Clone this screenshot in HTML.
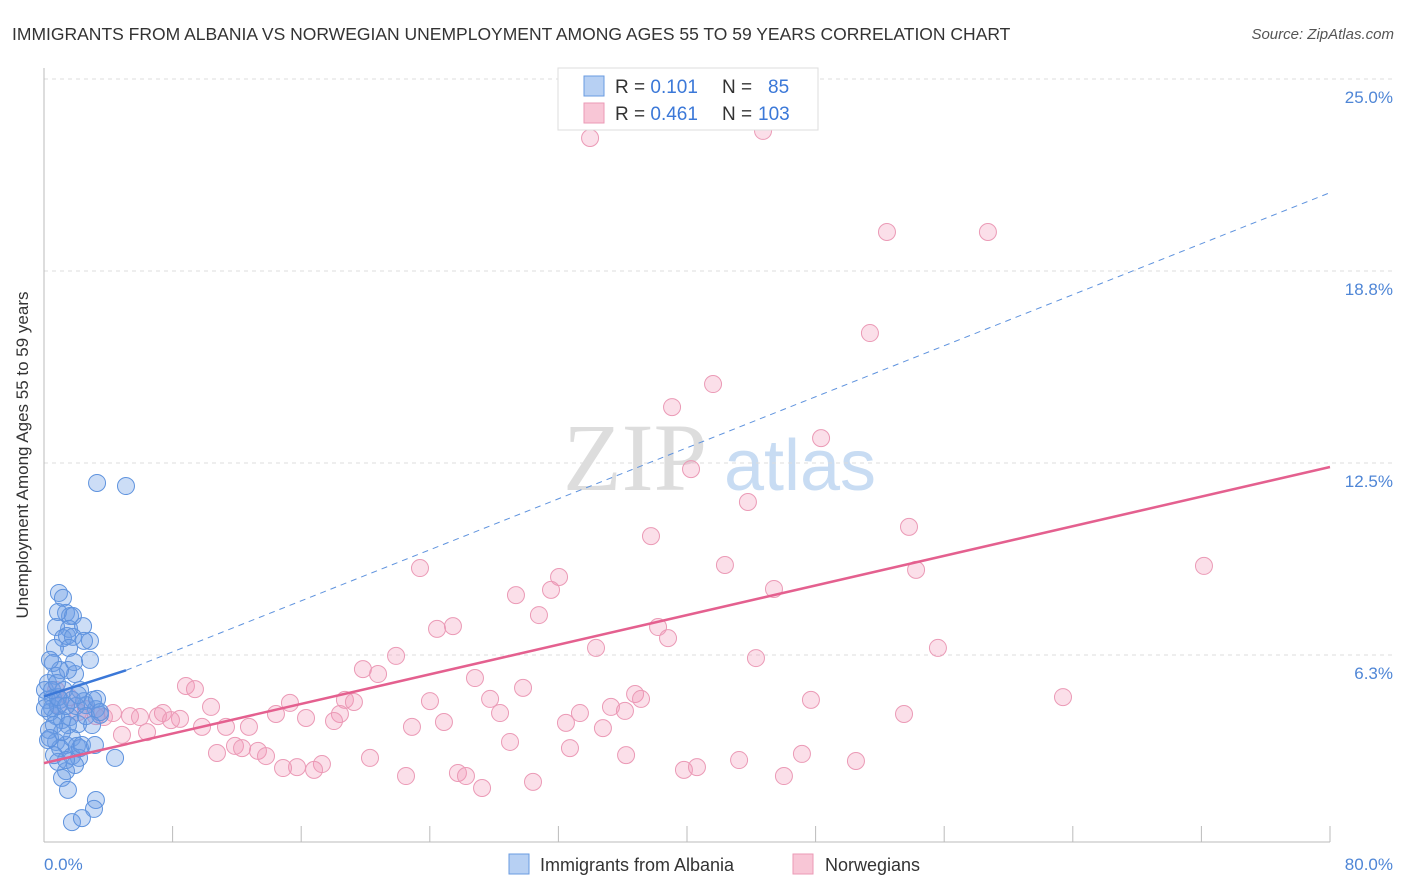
<!DOCTYPE html>
<html><head><meta charset="utf-8"><style>
body{margin:0;background:#fff;font-family:"Liberation Sans",sans-serif;}
svg{display:block}
</style></head><body>
<svg id="chart" width="1406" height="892">
<text x="12" y="40" font-size="17.5" fill="#333">IMMIGRANTS FROM ALBANIA VS NORWEGIAN UNEMPLOYMENT AMONG AGES 55 TO 59 YEARS CORRELATION CHART</text>
<text x="1394" y="39" font-size="15" fill="#555" font-style="italic" text-anchor="end">Source: ZipAtlas.com</text>
<g>
<text x="635" y="490" font-size="96" font-family="Liberation Serif,serif" fill="#ddd" text-anchor="middle">ZIP</text>
<text x="800" y="490" font-size="72" fill="#c8dcf3" text-anchor="middle">atlas</text>
</g>
<g id="grid"></g>
<line x1="44" y1="68" x2="44" y2="842" stroke="#bbb"/>
<line x1="44" y1="842" x2="1330" y2="842" stroke="#bbb"/>
<g id="xticks"></g>
<text x="28" y="455" font-size="17" fill="#333" text-anchor="middle" transform="rotate(-90 28 455)">Unemployment Among Ages 55 to 59 years</text>
<text x="44" y="870" font-size="17" fill="#4f86d6">0.0%</text>
<text x="1393" y="870" font-size="17" fill="#4f86d6" text-anchor="end">80.0%</text>
<g id="pink"></g><g id="blue"></g><g id="trends"></g>
<g>
<rect x="558" y="68" width="260" height="62" fill="#fff" stroke="#ddd"/>
<rect x="584" y="76" width="20" height="20" fill="#b7d0f3" stroke="#6a9be0"/>
<rect x="584" y="103" width="20" height="20" fill="#f8c6d6" stroke="#eb9ab6"/>
<text x="615" y="93" font-size="19" fill="#333">R = <tspan fill="#3b78d8">0.101</tspan><tspan x="722">N = </tspan><tspan x="768" fill="#3b78d8">85</tspan></text>
<text x="615" y="120" font-size="19" fill="#333">R = <tspan fill="#3b78d8">0.461</tspan><tspan x="722">N = </tspan><tspan x="758" fill="#3b78d8">103</tspan></text>
</g>
<g>
<rect x="509" y="854" width="20" height="20" fill="#b7d0f3" stroke="#6a9be0"/>
<text x="540" y="871" font-size="18" fill="#333">Immigrants from Albania</text>
<rect x="793" y="854" width="20" height="20" fill="#f8c6d6" stroke="#eb9ab6"/>
<text x="825" y="871" font-size="18" fill="#333">Norwegians</text>
</g>
</svg>
<script>
const yTicks=[25.0,18.8,12.5,6.3];
const yTickVals=[25,18.75,12.5,6.25];
const xTickVals=[0,8,16,24,32,40,48,56,64,72,80];
const blueData=[[3.30,11.85],[5.10,11.75],[0.93,8.27],[1.18,8.11],[1.37,7.62],[1.62,7.52],[1.80,7.52],[1.56,7.10],[2.43,7.19],[0.75,7.16],[1.18,6.80],[1.43,6.87],[2.86,6.71],[1.80,6.84],[1.56,6.48],[0.68,6.48],[0.56,5.99],[1.93,5.63],[1.49,5.76],[0.75,5.57],[1.00,5.76],[0.25,5.34],[0.06,5.11],[0.56,4.85],[1.00,4.79],[2.24,5.11],[2.49,4.75],[3.05,4.79],[3.23,4.49],[3.48,4.30],[2.61,4.62],[0.50,4.52],[0.75,4.26],[1.12,4.13],[1.62,4.23],[2.12,4.00],[0.31,3.81],[0.75,3.42],[1.37,3.32],[1.74,3.55],[2.05,3.29],[1.00,3.22],[1.74,2.96],[2.18,2.90],[2.24,3.22],[4.42,2.90],[1.37,2.47],[1.12,2.25],[1.49,1.86],[3.23,1.53],[3.11,1.24],[1.74,0.81],[2.36,0.94],[0.37,6.09],[0.19,4.79],[0.37,4.39],[0.87,4.59],[1.24,5.11],[1.74,4.79],[1.99,4.59],[1.49,3.97],[1.12,3.74],[0.87,2.77],[2.61,4.26],[2.86,6.09],[0.25,3.48],[0.62,2.99],[0.87,4.88],[0.06,4.52],[0.50,5.11],[3.30,4.82],[2.36,3.32],[1.93,2.67],[3.48,4.39],[2.99,3.97],[1.37,4.59],[0.62,3.97],[0.37,3.55],[2.49,6.71],[0.87,7.65],[1.87,6.02],[0.81,5.34],[2.12,4.95],[1.37,2.83],[3.17,3.32]];
const pinkData=[[33.97,23.08],[44.73,23.31],[52.44,20.02],[58.72,20.02],[51.38,16.73],[41.62,15.07],[39.07,14.32],[48.34,13.31],[40.25,12.30],[43.79,11.23],[53.81,10.42],[37.76,10.12],[23.39,9.08],[42.36,9.18],[54.25,9.02],[72.16,9.15],[32.04,8.79],[29.36,8.20],[31.54,8.37],[45.41,8.40],[30.79,7.55],[24.45,7.10],[25.44,7.19],[38.20,7.16],[38.82,6.80],[34.34,6.48],[55.61,6.48],[21.90,6.22],[44.29,6.15],[19.84,5.79],[20.78,5.63],[26.81,5.50],[8.83,5.24],[9.39,5.14],[29.80,5.18],[63.39,4.88],[47.71,4.79],[36.77,4.98],[37.14,4.82],[27.75,4.82],[24.01,4.75],[18.72,4.79],[19.28,4.72],[15.30,4.69],[10.39,4.56],[35.27,4.56],[36.14,4.43],[28.37,4.36],[53.50,4.33],[7.40,4.36],[7.09,4.26],[5.35,4.26],[5.97,4.23],[4.29,4.36],[3.23,4.26],[3.73,4.23],[8.46,4.17],[7.90,4.13],[14.43,4.33],[16.30,4.20],[18.41,4.33],[18.04,4.10],[24.88,4.07],[9.83,3.91],[11.32,3.91],[12.75,3.91],[22.89,3.91],[32.47,4.04],[34.77,3.87],[4.85,3.65],[6.41,3.74],[33.34,4.36],[28.99,3.42],[32.72,3.22],[11.88,3.29],[12.32,3.22],[13.31,3.13],[13.81,2.96],[10.76,3.06],[36.21,2.99],[47.15,3.03],[20.28,2.90],[43.24,2.83],[50.51,2.80],[17.29,2.70],[15.74,2.60],[14.87,2.57],[16.80,2.51],[39.81,2.51],[40.62,2.60],[46.03,2.31],[22.52,2.31],[25.75,2.41],[26.25,2.31],[27.25,1.92],[30.42,2.12],[0.93,4.62],[0.75,5.11],[1.56,4.88],[2.61,4.49],[2.12,4.39]];
const blueTrend=[[0,4.9],[5.1,5.75],[80,21.3]];
const pinkTrend=[[0,2.73],[80,12.37]];
const NS="http://www.w3.org/2000/svg";
function X(v){return 44+v*16.075;}
function Y(v){return 847-v*30.72;}
function mk(t,a,p){const e=document.createElementNS(NS,t);for(const k in a)e.setAttribute(k,a[k]);p.appendChild(e);return e;}
const grid=document.getElementById('grid');
yTickVals.forEach((v,i)=>{
 const l=mk('line',{x1:44,x2:1394,y1:Y(v),y2:Y(v),stroke:'#ddd','stroke-dasharray':'4,4'},grid);
 
 
 const t=mk('text',{x:1393,y:Y(v)+24,'font-size':17,fill:'#4f86d6','text-anchor':'end'},grid);
 t.textContent=yTicks[i].toFixed(1)+'%';
 
 
});
const xt=document.getElementById('xticks');
xTickVals.forEach(v=>{
 const l=mk('line',{x1:X(v),x2:X(v),y1:826,y2:842,stroke:'#bbb'},xt);
 
 
});
function pts(data,g,fill,stroke,name){
 data.forEach(d=>{
  const c=mk('circle',{cx:X(d[0]),cy:Y(d[1]),r:8.5,fill:fill,stroke:stroke,'stroke-width':1},g);
  
  
 });
}
pts(pinkData,document.getElementById('pink'),'rgba(242,150,182,0.3)','#eb9ab6','norwegians-point');
pts(blueData,document.getElementById('blue'),'rgba(110,158,230,0.35)','#5f93de','albania-point');
const tr=document.getElementById('trends');
let a=mk('line',{x1:X(blueTrend[1][0]),y1:Y(blueTrend[1][1]),x2:X(blueTrend[2][0]),y2:Y(blueTrend[2][1]),stroke:'#5f93de','stroke-width':1,'stroke-dasharray':'6,5'},tr);


a=mk('line',{x1:X(blueTrend[0][0]),y1:Y(blueTrend[0][1]),x2:X(blueTrend[1][0]),y2:Y(blueTrend[1][1]),stroke:'#3b78d8','stroke-width':2.5},tr);


a=mk('line',{x1:X(pinkTrend[0][0]),y1:Y(pinkTrend[0][1]),x2:X(pinkTrend[1][0]),y2:Y(pinkTrend[1][1]),stroke:'#e4608f','stroke-width':2.5},tr);


</script>
</body></html>
